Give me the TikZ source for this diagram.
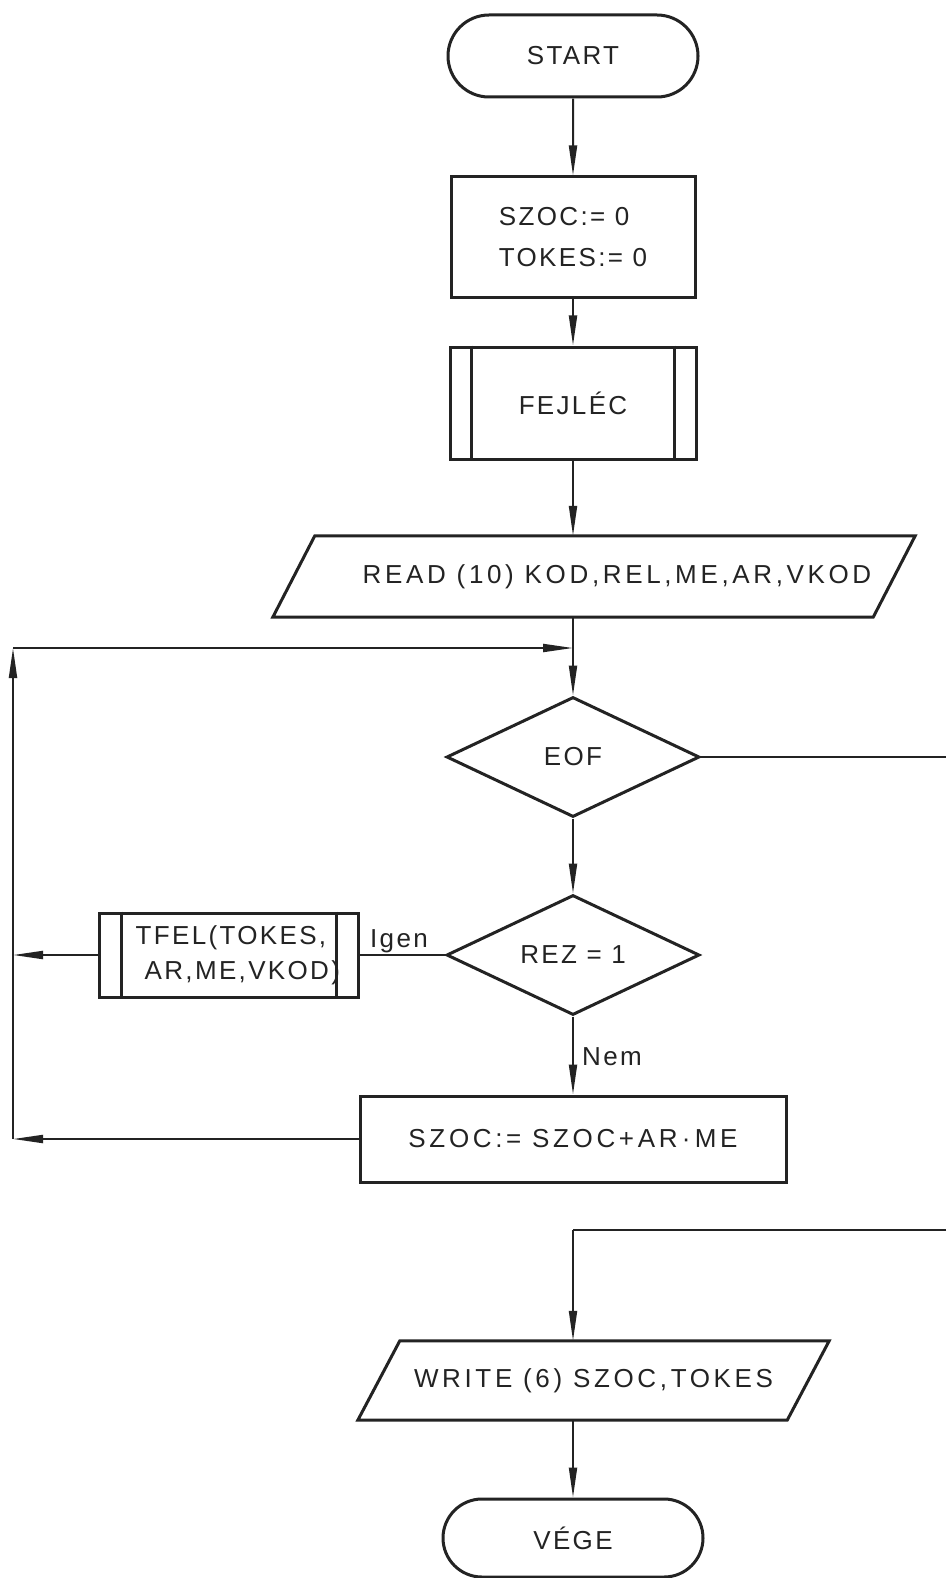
\documentclass[tikz,border=0pt]{standalone}
\usepackage{fontspec}
\setmainfont{Liberation Sans}[LetterSpace=9]
\usetikzlibrary{arrows.meta,shapes.geometric,shapes.misc,calc}
\definecolor{ink}{RGB}{35,35,35}
\newcommand\flowfont{\fontsize{26}{41}\selectfont}
\newcommand\widefont{\addfontfeature{LetterSpace=14}}
\begin{document}
\begin{tikzpicture}[x=1pt,y=-1pt,
  every node/.style={text=ink, font=\flowfont},
  shp/.style={draw=ink, line width=3pt},
  term/.style={shp, rounded rectangle, minimum height=82pt, inner sep=0pt},
  proc/.style={shp, rectangle, inner sep=0pt},
  dec/.style={shp, diamond, aspect=2.1, minimum width=253pt, minimum height=120pt, inner sep=0pt},
  io/.style={rectangle, draw=none, inner sep=0pt},
  conn/.style={draw=ink, line width=2pt},
  arr/.style={conn, -{Triangle[length=30pt,width=8pt]}},
  lbl/.style={inner sep=0pt}]
\useasboundingbox[fill=white] (0,0) rectangle (946,1578);

% nodes
\node[term, minimum width=250pt] (start) at (573,56) {START};
\node[proc, minimum width=244pt, minimum height=121pt, align=left] (init) at (573,237.5) {SZOC:= 0\\TOKES:= 0};
\node[proc, minimum width=246pt, minimum height=112pt] (fej) at (573,403) {FEJLÉC};
\node[io, minimum width=600pt, minimum height=81pt] (read) at (594,576.5) {\hspace*{46pt}\widefont READ (10) KOD,REL,ME,AR,VKOD};
\node[dec] (eof) at (573,757) {EOF};
\node[dec] (rez) at (573,955) {REZ = 1};
\node[proc, minimum width=259pt, minimum height=84pt] (tfel) at (228.5,955) {};
\node[lbl, anchor=west, align=left, font=\fontsize{26}{35}\selectfont] (tfeltxt) at ([xshift=38pt]tfel.west) {TFEL(TOKES,\\\hspace{9pt}AR,ME,VKOD)};
\node[proc, minimum width=426pt, minimum height=86pt] (upd) at (573,1139) {\widefont SZOC:= SZOC+AR\,·\,ME};
\node[io, minimum width=429pt, minimum height=79pt] (write) at (593.5,1380.5) {\widefont WRITE (6) SZOC,TOKES};
\node[term, minimum width=260pt, minimum height=78pt] (vege) at (573,1538) {VÉGE};

% labels
\node[lbl, anchor=base west] (igen) at (370,947) {Igen};
\node[lbl, anchor=base west] (nem) at (582,1065) {Nem};

% parallelograms
\draw[shp] ([xshift=21pt]read.north west) -- ([xshift=21pt]read.north east) -- ([xshift=-21pt]read.south east) -- ([xshift=-21pt]read.south west) -- cycle;
\draw[shp] ([xshift=21pt]write.north west) -- ([xshift=21pt]write.north east) -- ([xshift=-21pt]write.south east) -- ([xshift=-21pt]write.south west) -- cycle;

% subroutine bars
\draw[shp] ([xshift=23pt]fej.north west) -- ([xshift=23pt]fej.south west);
\draw[shp] ([xshift=-23pt]fej.north east) -- ([xshift=-23pt]fej.south east);
\draw[shp] ([xshift=24pt]tfel.north west) -- ([xshift=24pt]tfel.south west);
\draw[shp] ([xshift=-23pt]tfel.north east) -- ([xshift=-23pt]tfel.south east);

% coordinates
\coordinate (j) at (573,648);
\coordinate (lt) at (13,648);
\coordinate (lm) at (13,955);
\coordinate (lb) at (13,1139);
\coordinate (er) at (946,757);
\coordinate (wr) at (946,1230);
\coordinate (wt) at (573,1230);

% connectors
\draw[arr] (start) -- (init);
\draw[arr] (init) -- (fej);
\draw[arr] (fej.south) -- (fej.south |- read.north);
\draw[arr] (eof.north |- read.south) -- (eof.north);
\draw[arr] (eof) -- (rez);
\draw[conn] (eof.east) -- (er);
\draw[conn] (rez.west) -- (tfel.east);
\draw[arr] (tfel.west) -- (lm);
\draw[arr] (rez) -- (upd);
\draw[arr] (upd.west) -- (lb);
\draw[arr] (lb) -- (lt);
\draw[arr] (lt) -- (j);
\draw[conn] (wr) -- (wt);
\draw[arr] (wt) -- (wt |- write.north);
\draw[arr] (vege.north |- write.south) -- (vege.north);
\end{tikzpicture}
\end{document}
